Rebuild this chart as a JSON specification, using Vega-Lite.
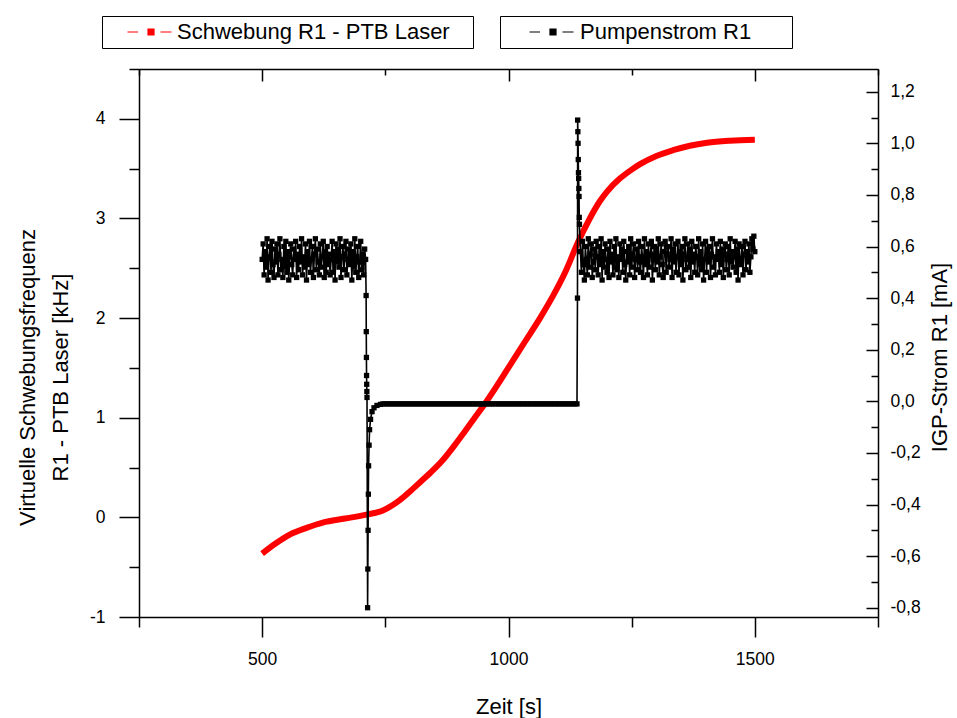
{
  "$schema": "https://vega.github.io/schema/vega-lite/v6.json",
  "width": 739,
  "height": 548,
  "autosize": {"type": "none"},
  "padding": {"left": 139, "top": 69, "right": 79, "bottom": 101},
  "background": "white",
  "config": {
    "view": {"stroke": null},
    "font": "Liberation Sans",
    "axis": {
      "grid": false,
      "domainColor": "black",
      "tickColor": "black",
      "domainWidth": 1.5,
      "tickWidth": 1.5,
      "labelFont": "Liberation Sans",
      "labelFontSize": 17.5,
      "labelColor": "black",
      "titleFont": "Liberation Sans",
      "titleFontSize": 22,
      "titleFontWeight": "normal",
      "titleColor": "black"
    }
  },
  "datasets": {
    "beat": [
      {"t": 500, "v": -0.363}, {"t": 528, "v": -0.26}, {"t": 556, "v": -0.173}, {"t": 590, "v": -0.105},
      {"t": 623, "v": -0.052}, {"t": 668, "v": -0.012}, {"t": 712, "v": 0.028}, {"t": 745, "v": 0.07},
      {"t": 780, "v": 0.175}, {"t": 800, "v": 0.26}, {"t": 820, "v": 0.35}, {"t": 842, "v": 0.45},
      {"t": 864, "v": 0.56}, {"t": 890, "v": 0.72}, {"t": 911, "v": 0.86}, {"t": 930, "v": 0.99},
      {"t": 952, "v": 1.14}, {"t": 975, "v": 1.31}, {"t": 997, "v": 1.48}, {"t": 1033, "v": 1.76},
      {"t": 1064, "v": 2.0}, {"t": 1090, "v": 2.22}, {"t": 1116, "v": 2.47}, {"t": 1141, "v": 2.76},
      {"t": 1165, "v": 3.0}, {"t": 1185, "v": 3.17}, {"t": 1200, "v": 3.27}, {"t": 1226, "v": 3.4},
      {"t": 1250, "v": 3.49}, {"t": 1267, "v": 3.545}, {"t": 1299, "v": 3.625}, {"t": 1334, "v": 3.685},
      {"t": 1368, "v": 3.73}, {"t": 1403, "v": 3.76}, {"t": 1450, "v": 3.78}, {"t": 1500, "v": 3.79}
    ],
    "pump": [
      {"t":500,"i":0.55},{"t":502,"i":0.61},{"t":504,"i":0.49},{"t":506,"i":0.58},{"t":508,"i":0.52},{"t":510,"i":0.63},{"t":512,"i":0.47},{"t":514,"i":0.56},{"t":516,"i":0.60},{"t":518,"i":0.50},
      {"t":520,"i":0.62},{"t":522,"i":0.53},{"t":524,"i":0.48},{"t":526,"i":0.59},{"t":528,"i":0.54},{"t":530,"i":0.61},{"t":532,"i":0.49},{"t":534,"i":0.57},{"t":536,"i":0.63},{"t":538,"i":0.51},
      {"t":540,"i":0.55},{"t":542,"i":0.48},{"t":544,"i":0.60},{"t":546,"i":0.52},{"t":548,"i":0.62},{"t":550,"i":0.50},{"t":552,"i":0.58},{"t":554,"i":0.47},{"t":556,"i":0.56},{"t":558,"i":0.61},
      {"t":560,"i":0.53},{"t":562,"i":0.49},{"t":564,"i":0.59},{"t":566,"i":0.55},{"t":568,"i":0.62},{"t":570,"i":0.48},{"t":572,"i":0.57},{"t":574,"i":0.51},{"t":576,"i":0.60},{"t":578,"i":0.54},
      {"t":580,"i":0.63},{"t":582,"i":0.49},{"t":584,"i":0.56},{"t":586,"i":0.52},{"t":588,"i":0.61},{"t":590,"i":0.47},{"t":592,"i":0.58},{"t":594,"i":0.53},{"t":596,"i":0.62},{"t":598,"i":0.50},
      {"t":600,"i":0.55},{"t":602,"i":0.60},{"t":604,"i":0.48},{"t":606,"i":0.57},{"t":608,"i":0.63},{"t":610,"i":0.51},{"t":612,"i":0.59},{"t":614,"i":0.54},{"t":616,"i":0.49},{"t":618,"i":0.61},
      {"t":620,"i":0.52},{"t":622,"i":0.56},{"t":624,"i":0.62},{"t":626,"i":0.48},{"t":628,"i":0.58},{"t":630,"i":0.50},{"t":632,"i":0.60},{"t":634,"i":0.53},{"t":636,"i":0.57},{"t":638,"i":0.49},
      {"t":640,"i":0.55},{"t":642,"i":0.62},{"t":644,"i":0.50},{"t":646,"i":0.58},{"t":648,"i":0.47},{"t":650,"i":0.61},{"t":652,"i":0.54},{"t":654,"i":0.59},{"t":656,"i":0.52},{"t":658,"i":0.63},
      {"t":660,"i":0.48},{"t":662,"i":0.56},{"t":664,"i":0.60},{"t":666,"i":0.51},{"t":668,"i":0.57},{"t":670,"i":0.62},{"t":672,"i":0.49},{"t":674,"i":0.55},{"t":676,"i":0.59},{"t":678,"i":0.53},
      {"t":680,"i":0.61},{"t":682,"i":0.47},{"t":684,"i":0.58},{"t":686,"i":0.52},{"t":688,"i":0.63},{"t":690,"i":0.50},{"t":692,"i":0.56},{"t":694,"i":0.60},{"t":696,"i":0.48},{"t":698,"i":0.54},
      {"t":700,"i":0.62},{"t":702,"i":0.51},{"t":704,"i":0.57},{"t":706,"i":0.49},{"t":708,"i":0.59},{"t":710,"i":0.55},
      {"t":711,"i":0.41},{"t":711.3,"i":0.27},{"t":711.6,"i":0.17},{"t":711.9,"i":0.10},{"t":712.2,"i":0.066},{"t":712.5,"i":0.038},{"t":712.8,"i":0.015},
      {"t":714,"i":-0.80},{"t":714.5,"i":-0.65},{"t":715,"i":-0.50},{"t":715.5,"i":-0.36},{"t":716,"i":-0.25},{"t":717,"i":-0.17},{"t":718,"i":-0.11},{"t":720,"i":-0.07},{"t":723,"i":-0.04},{"t":727,"i":-0.025},{"t":733,"i":-0.016},{"t":740,"i":-0.012},
      {"t":745,"i":-0.01},{"t":750,"i":-0.01},{"t":755,"i":-0.01},{"t":760,"i":-0.01},{"t":765,"i":-0.01},{"t":770,"i":-0.01},{"t":775,"i":-0.01},{"t":780,"i":-0.01},{"t":785,"i":-0.01},{"t":790,"i":-0.01},
      {"t":795,"i":-0.01},{"t":800,"i":-0.01},{"t":805,"i":-0.01},{"t":810,"i":-0.01},{"t":815,"i":-0.01},{"t":820,"i":-0.01},{"t":825,"i":-0.01},{"t":830,"i":-0.01},{"t":835,"i":-0.01},{"t":840,"i":-0.01},
      {"t":845,"i":-0.01},{"t":850,"i":-0.01},{"t":855,"i":-0.01},{"t":860,"i":-0.01},{"t":865,"i":-0.01},{"t":870,"i":-0.01},{"t":875,"i":-0.01},{"t":880,"i":-0.01},{"t":885,"i":-0.01},{"t":890,"i":-0.01},
      {"t":895,"i":-0.01},{"t":900,"i":-0.01},{"t":905,"i":-0.01},{"t":910,"i":-0.01},{"t":915,"i":-0.01},{"t":920,"i":-0.01},{"t":925,"i":-0.01},{"t":930,"i":-0.01},{"t":935,"i":-0.01},{"t":940,"i":-0.01},
      {"t":945,"i":-0.01},{"t":950,"i":-0.01},{"t":955,"i":-0.01},{"t":960,"i":-0.01},{"t":965,"i":-0.01},{"t":970,"i":-0.01},{"t":975,"i":-0.01},{"t":980,"i":-0.01},{"t":985,"i":-0.01},{"t":990,"i":-0.01},
      {"t":995,"i":-0.01},{"t":1000,"i":-0.01},{"t":1005,"i":-0.01},{"t":1010,"i":-0.01},{"t":1015,"i":-0.01},{"t":1020,"i":-0.01},{"t":1025,"i":-0.01},{"t":1030,"i":-0.01},{"t":1035,"i":-0.01},{"t":1040,"i":-0.01},
      {"t":1045,"i":-0.01},{"t":1050,"i":-0.01},{"t":1055,"i":-0.01},{"t":1060,"i":-0.01},{"t":1065,"i":-0.01},{"t":1070,"i":-0.01},{"t":1075,"i":-0.01},{"t":1080,"i":-0.01},{"t":1085,"i":-0.01},{"t":1090,"i":-0.01},
      {"t":1095,"i":-0.01},{"t":1100,"i":-0.01},{"t":1105,"i":-0.01},{"t":1110,"i":-0.01},{"t":1115,"i":-0.01},{"t":1120,"i":-0.01},{"t":1125,"i":-0.01},{"t":1130,"i":-0.01},{"t":1135,"i":-0.01},{"t":1139,"i":-0.01},
      {"t":1140,"i":0.40},{"t":1140.4,"i":1.09},{"t":1140.8,"i":1.045},{"t":1141.2,"i":1.0},{"t":1141.6,"i":0.937},{"t":1142,"i":0.886},{"t":1142.4,"i":0.864},{"t":1142.8,"i":0.825},{"t":1143.2,"i":0.794},{"t":1143.6,"i":0.713},{"t":1144,"i":0.686},
      {"t":1146,"i":0.58},{"t":1148,"i":0.50},{"t":1150,"i":0.62},{"t":1152,"i":0.53},{"t":1154,"i":0.47},{"t":1156,"i":0.60},{"t":1158,"i":0.55},{"t":1160,"i":0.49},{"t":1162,"i":0.63},{"t":1164,"i":0.52},
      {"t":1166,"i":0.57},{"t":1168,"i":0.61},{"t":1170,"i":0.48},{"t":1172,"i":0.54},{"t":1174,"i":0.59},{"t":1176,"i":0.51},{"t":1178,"i":0.62},{"t":1180,"i":0.56},{"t":1182,"i":0.49},{"t":1184,"i":0.60},
      {"t":1186,"i":0.53},{"t":1188,"i":0.63},{"t":1190,"i":0.47},{"t":1192,"i":0.58},{"t":1194,"i":0.52},{"t":1196,"i":0.61},{"t":1198,"i":0.55},{"t":1200,"i":0.50},{"t":1202,"i":0.59},{"t":1204,"i":0.48},
      {"t":1206,"i":0.62},{"t":1208,"i":0.54},{"t":1210,"i":0.57},{"t":1212,"i":0.49},{"t":1214,"i":0.60},{"t":1216,"i":0.52},{"t":1218,"i":0.63},{"t":1220,"i":0.51},{"t":1222,"i":0.56},{"t":1224,"i":0.48},
      {"t":1226,"i":0.61},{"t":1228,"i":0.55},{"t":1230,"i":0.59},{"t":1232,"i":0.50},{"t":1234,"i":0.62},{"t":1236,"i":0.53},{"t":1238,"i":0.47},{"t":1240,"i":0.58},{"t":1242,"i":0.54},{"t":1244,"i":0.60},
      {"t":1246,"i":0.49},{"t":1248,"i":0.63},{"t":1250,"i":0.52},{"t":1252,"i":0.57},{"t":1254,"i":0.61},{"t":1256,"i":0.48},{"t":1258,"i":0.55},{"t":1260,"i":0.59},{"t":1262,"i":0.51},{"t":1264,"i":0.62},
      {"t":1266,"i":0.54},{"t":1268,"i":0.50},{"t":1270,"i":0.60},{"t":1272,"i":0.56},{"t":1274,"i":0.48},{"t":1276,"i":0.63},{"t":1278,"i":0.53},{"t":1280,"i":0.58},{"t":1282,"i":0.49},{"t":1284,"i":0.61},
      {"t":1286,"i":0.52},{"t":1288,"i":0.57},{"t":1290,"i":0.62},{"t":1292,"i":0.47},{"t":1294,"i":0.55},{"t":1296,"i":0.60},{"t":1298,"i":0.51},{"t":1300,"i":0.59},{"t":1302,"i":0.54},{"t":1304,"i":0.63},
      {"t":1306,"i":0.49},{"t":1308,"i":0.56},{"t":1310,"i":0.61},{"t":1312,"i":0.53},{"t":1314,"i":0.48},{"t":1316,"i":0.58},{"t":1318,"i":0.62},{"t":1320,"i":0.50},{"t":1322,"i":0.57},{"t":1324,"i":0.60},
      {"t":1326,"i":0.52},{"t":1328,"i":0.55},{"t":1330,"i":0.63},{"t":1332,"i":0.48},{"t":1334,"i":0.59},{"t":1336,"i":0.54},{"t":1338,"i":0.61},{"t":1340,"i":0.50},{"t":1342,"i":0.56},{"t":1344,"i":0.62},
      {"t":1346,"i":0.49},{"t":1348,"i":0.58},{"t":1350,"i":0.53},{"t":1352,"i":0.60},{"t":1354,"i":0.47},{"t":1356,"i":0.57},{"t":1358,"i":0.63},{"t":1360,"i":0.51},{"t":1362,"i":0.55},{"t":1364,"i":0.61},
      {"t":1366,"i":0.52},{"t":1368,"i":0.59},{"t":1370,"i":0.48},{"t":1372,"i":0.62},{"t":1374,"i":0.54},{"t":1376,"i":0.57},{"t":1378,"i":0.50},{"t":1380,"i":0.60},{"t":1382,"i":0.56},{"t":1384,"i":0.49},
      {"t":1386,"i":0.63},{"t":1388,"i":0.53},{"t":1390,"i":0.58},{"t":1392,"i":0.51},{"t":1394,"i":0.61},{"t":1396,"i":0.47},{"t":1398,"i":0.55},{"t":1400,"i":0.62},{"t":1402,"i":0.50},{"t":1404,"i":0.59},
      {"t":1406,"i":0.54},{"t":1408,"i":0.60},{"t":1410,"i":0.48},{"t":1412,"i":0.57},{"t":1414,"i":0.63},{"t":1416,"i":0.52},{"t":1418,"i":0.56},{"t":1420,"i":0.49},{"t":1422,"i":0.61},{"t":1424,"i":0.55},
      {"t":1426,"i":0.58},{"t":1428,"i":0.50},{"t":1430,"i":0.62},{"t":1432,"i":0.53},{"t":1434,"i":0.59},{"t":1436,"i":0.48},{"t":1438,"i":0.57},{"t":1440,"i":0.61},{"t":1442,"i":0.51},{"t":1444,"i":0.55},
      {"t":1446,"i":0.60},{"t":1448,"i":0.49},{"t":1450,"i":0.63},{"t":1452,"i":0.54},{"t":1454,"i":0.58},{"t":1456,"i":0.52},{"t":1458,"i":0.56},{"t":1460,"i":0.62},{"t":1462,"i":0.50},{"t":1464,"i":0.59},
      {"t":1466,"i":0.47},{"t":1468,"i":0.61},{"t":1470,"i":0.55},{"t":1472,"i":0.53},{"t":1474,"i":0.60},{"t":1476,"i":0.49},{"t":1478,"i":0.57},{"t":1480,"i":0.62},{"t":1482,"i":0.51},{"t":1484,"i":0.58},
      {"t":1486,"i":0.54},{"t":1488,"i":0.61},{"t":1490,"i":0.50},{"t":1492,"i":0.56},{"t":1494,"i":0.63},{"t":1496,"i":0.59},{"t":1498,"i":0.64},{"t":1500,"i":0.58}
    ]
  },
  "layer": [
    {
      "data": {"name": "beat"},
      "mark": {"type": "line", "strokeWidth": 6, "interpolate": "monotone"},
      "encoding": {
        "x": {
          "field": "t", "type": "quantitative",
          "scale": {"domain": [250, 1750], "nice": false, "zero": false},
          "axis": {"orient": "bottom", "values": [500, 1000, 1500], "format": "d", "tickSize": 20, "labelPadding": 13, "labelFlush": false,
                   "title": "Zeit [s]", "titleBaseline": "alphabetic", "titleY": 96}
        },
        "y": {
          "field": "v", "type": "quantitative",
          "scale": {"domain": [-1, 4.5], "nice": false, "zero": false},
          "axis": {"orient": "left", "values": [-1, 0, 1, 2, 3, 4], "labelExpr": "'' + datum.value", "tickSize": 20, "labelPadding": 14,
                   "title": ["Virtuelle Schwebungsfrequenz", "R1 - PTB Laser [kHz]"], "titleAngle": 270, "titleAlign": "center",
                   "titleBaseline": "alphabetic", "titleX": -105, "titleY": 308, "titleLineHeight": 33}
        },
        "color": {
          "datum": "Schwebung R1 - PTB Laser",
          "scale": {"range": ["#ff0000"]},
          "legend": {
            "orient": "none", "legendX": -37, "legendY": -53, "title": null, "padding": 5,
            "strokeColor": "black", "fillColor": "white",
            "labelFont": "Liberation Sans", "labelFontSize": 22, "labelColor": "black", "labelLimit": 600,
            "symbolType": "M1.9,0H4M6,-0.6H7.2V0.6H6ZM8.5,0H10.7M69.4,0", "symbolSize": 100, "labelOffset": 48,
            "encode": {"symbols": {"update": {"fill": {"value": "#ff0000"}, "stroke": {"value": "#ff0000"}, "strokeWidth": {"value": 1.2}, "opacity": {"value": 1}}}}
          }
        }
      }
    },
    {
      "data": {"name": "beat"},
      "mark": {"type": "point", "opacity": 0},
      "encoding": {
        "x": {
          "field": "t", "type": "quantitative",
          "scale": {"domain": [250, 1750], "nice": false, "zero": false},
          "axis": {"orient": "bottom", "values": [250, 750, 1250, 1750], "tickSize": 10, "labels": false, "domain": false, "title": null}
        },
        "y": {
          "field": "v", "type": "quantitative",
          "scale": {"domain": [-1, 4.5], "nice": false, "zero": false},
          "axis": {"orient": "left", "values": [-0.5, 0.5, 1.5, 2.5, 3.5, 4.5], "tickSize": 10, "labels": false, "domain": false, "title": null}
        }
      }
    },
    {
      "data": {"name": "pump"},
      "mark": {"type": "line", "strokeWidth": 1.6, "point": {"shape": "square", "size": 28, "filled": true, "opacity": 1}},
      "encoding": {
        "x": {
          "field": "t", "type": "quantitative",
          "scale": {"domain": [250, 1750], "nice": false, "zero": false},
          "axis": {"orient": "top", "values": [500, 1000, 1500], "tickSize": -12, "labels": false, "title": null}
        },
        "y": {
          "field": "i", "type": "quantitative",
          "scale": {"domain": [-0.836, 1.288], "nice": false, "zero": false},
          "axis": {"orient": "right", "values": [-0.8, -0.6, -0.4, -0.2, 0, 0.2, 0.4, 0.6, 0.8, 1.0, 1.2], "tickSize": -12, "labelPadding": 24,
                   "labelExpr": "(datum.value < 0 ? '-' : '') + replace(format(abs(datum.value), '.1f'), '.', ',')",
                   "title": "IGP-Strom R1 [mA]", "titleAngle": 270, "titleAlign": "center", "titleBaseline": "alphabetic", "titleX": 68, "titleY": 288}
        },
        "color": {
          "datum": "Pumpenstrom R1",
          "scale": {"range": ["black"]},
          "legend": {
            "orient": "none", "legendX": 361, "legendY": -53, "title": null, "padding": 5,
            "strokeColor": "black", "fillColor": "white",
            "labelFont": "Liberation Sans", "labelFontSize": 22, "labelColor": "black", "labelLimit": 600,
            "symbolType": "M2.7,0H4.8M6.8,-0.6H8V0.6H6.8ZM9.3,0H11.5M53.6,0", "symbolSize": 100, "labelOffset": 53,
            "encode": {"symbols": {"update": {"fill": {"value": "black"}, "stroke": {"value": "black"}, "strokeWidth": {"value": 1.2}, "opacity": {"value": 1}}}}
          }
        }
      }
    },
    {
      "data": {"name": "beat"},
      "mark": {"type": "point", "opacity": 0},
      "encoding": {
        "x": {
          "field": "t", "type": "quantitative",
          "scale": {"domain": [250, 1750], "nice": false, "zero": false},
          "axis": {"orient": "top", "values": [250, 750, 1250, 1750], "tickSize": -6, "labels": false, "domain": false, "title": null}
        },
        "y": {
          "field": "v", "type": "quantitative",
          "scale": {"domain": [-0.836, 1.288], "nice": false, "zero": false},
          "axis": {"orient": "right", "values": [-0.7, -0.5, -0.3, -0.1, 0.1, 0.3, 0.5, 0.7, 0.9, 1.1], "tickSize": -7, "labels": false, "domain": false, "title": null}
        }
      }
    }
  ],
  "resolve": {
    "scale": {"y": "independent", "color": "independent"},
    "axis": {"x": "independent", "y": "independent"}
  }
}
